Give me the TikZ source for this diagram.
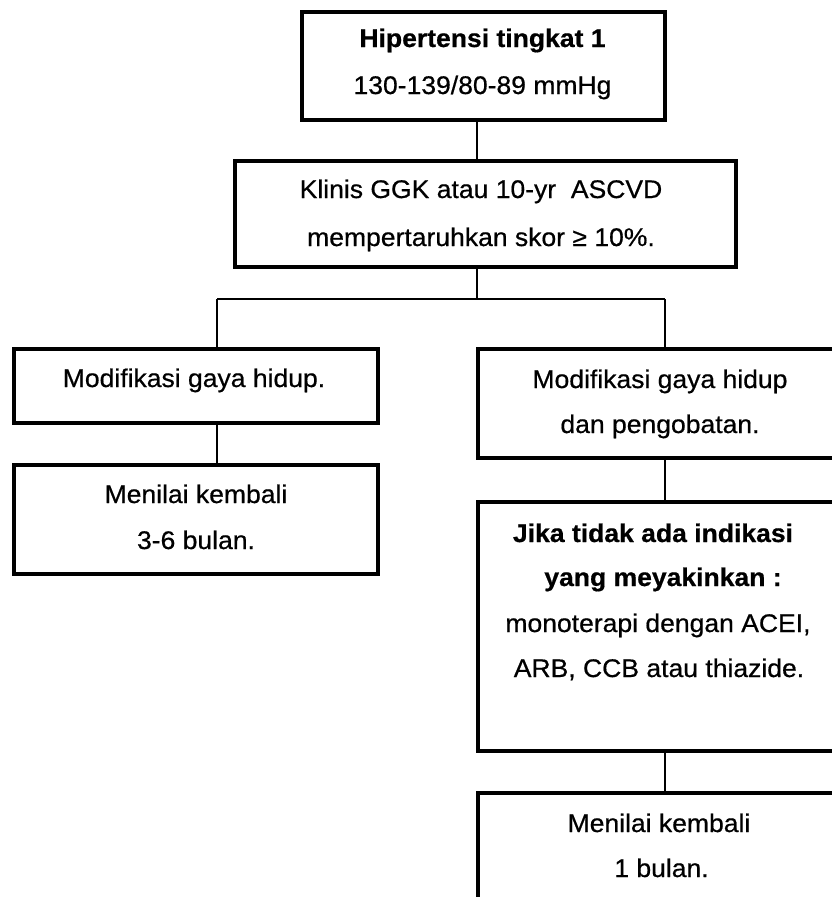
\documentclass[tikz,border=0pt]{standalone}
\usepackage{fontspec}
\setmainfont{Liberation Sans}[FakeStretch=1.04,FakeBold=0.6]
\begin{document}
\begin{tikzpicture}[x=1pt,y=-1pt,
  box/.style={draw=black,line width=4pt,fill=white,rectangle,inner sep=0pt,outer sep=0pt,anchor=north west},
  conn/.style={draw=black,line width=1.3pt},
  txt/.style={anchor=base,inner sep=0pt,outer sep=0pt,font=\fontsize{25.5}{30}\selectfont}]
\useasboundingbox (0,0) rectangle (832,897);
\clip (0,0) rectangle (832,897);
% junction coordinates
\coordinate (j) at (477,299);
\coordinate (jl) at (217,299);
\coordinate (jr) at (665,299);
% connectors
\draw[conn] (jl) -- (jr);
\draw[conn] (jl) -- (217,349) coordinate (c3);
\draw[conn] (jr) -- (665,349) coordinate (c4);
% boxes
\node[box,minimum width=363pt,minimum height=108pt] (B1) at (302,12) {};
\node[box,minimum width=501pt,minimum height=106pt] (B2) at (235,161) {};
\node[box,minimum width=363.5pt,minimum height=73.5pt] (B3) at (14,349) {};
\node[box,minimum width=363.5pt,minimum height=108.5pt] (B5) at (14,465) {};
\node[box,minimum width=364pt,minimum height=109pt] (B4) at (478,349) {};
\node[box,minimum width=364pt,minimum height=249pt] (B6) at (478,502) {};
\node[box,minimum width=364pt,minimum height=109pt] (B7) at (478,793) {};
% connectors between boxes
\draw[conn] (B1.south -| j) -- (B2.north -| j);
\draw[conn] (B2.south -| j) -- (j);
\draw[conn] (B3.south -| jl) -- (B5.north -| jl);
\draw[conn] (B4.south -| jr) -- (B6.north -| jr);
\draw[conn] (B6.south -| jr) -- (B7.north -| jr);
% texts
\node[txt] (t1a) at (482.5,47) {\bfseries Hipertensi tingkat 1};
\node[txt] (t1b) at (482.5,94) {130-139/80-89 mmHg};
\node[txt] (t2a) at (481,198) {Klinis GGK atau 10-yr\ \ ASCVD};
\node[txt] (t2b) at (481,246) {mempertaruhkan skor ≥ 10\%.};
\node[txt] (t3) at (194,387) {Modifikasi gaya hidup.};
\node[txt] (t5a) at (196,503) {Menilai kembali};
\node[txt] (t5b) at (196,549) {3-6 bulan.};
\node[txt] (t4a) at (660,388) {Modifikasi gaya hidup};
\node[txt] (t4b) at (660,433) {dan pengobatan.};
\node[txt] (t6a) at (653,542) {\bfseries Jika tidak ada indikasi};
\node[txt] (t6b) at (663,586) {\bfseries yang meyakinkan :};
\node[txt] (t6c) at (658,632) {monoterapi dengan ACEI,};
\node[txt] (t6d) at (659,677) {ARB, CCB atau thiazide.};
\node[txt] (t7a) at (659,832) {Menilai kembali};
\node[txt] (t7b) at (661.5,877) {1 bulan.};
\end{tikzpicture}
\end{document}
